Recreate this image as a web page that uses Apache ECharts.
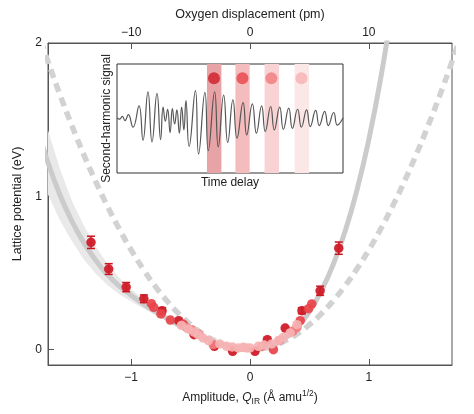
<!DOCTYPE html>
<html>
<head>
<meta charset="utf-8">
<script src="https://cdn.jsdelivr.net/npm/echarts@6/dist/echarts.min.js"></script>
<style>
html,body{margin:0;padding:0;background:#fff;}
#chart{width:474px;height:414px;}
</style>
</head>
<body>
<div id="chart"></div>
<script>
// ---- Main panel: anharmonic fit (solid) with confidence band ----
const fitQ = [-1.8,-1.7,-1.6,-1.5,-1.4,-1.3,-1.2,-1.1,-1.0,-0.9,-0.8,-0.7,-0.6,-0.5,-0.4,-0.3,-0.2,-0.1,0,0.1,0.2,0.3,0.4,0.5,0.6,0.7,0.8,0.9,1.0,1.1,1.2];
const fitV = [1.47,1.22,1.01,0.84,0.70,0.585,0.49,0.415,0.355,0.30,0.25,0.205,0.16,0.12,0.083,0.05,0.024,0.007,0,0.007,0.032,0.077,0.147,0.248,0.384,0.555,0.77,1.04,1.37,1.77,2.25];
const bandLow = [1.22,1.02,0.85,0.715,0.595,0.50,0.425,0.365,0.318,0.273,0.232,0.193,0.152,0.115,0.080,0.049,0.024,0.007,0,0.007,0.032,0.077,0.147,0.245,0.379,0.547,0.758,1.022,1.345,1.737,2.207];
const bandHigh = [1.72,1.42,1.17,0.965,0.805,0.67,0.555,0.465,0.392,0.327,0.268,0.217,0.168,0.125,0.086,0.051,0.024,0.007,0,0.007,0.032,0.077,0.147,0.251,0.389,0.563,0.782,1.058,1.395,1.803,2.293];

// ---- Harmonic potential (dashed) ----
const harmQ = [-1.8,-1.7,-1.6,-1.5,-1.4,-1.3,-1.2,-1.1,-1.0,-0.9,-0.8,-0.7,-0.6,-0.5,-0.4,-0.3,-0.2,-0.1,0,0.1,0.2,0.3,0.4,0.5,0.6,0.7,0.8,0.9,1.0,1.1,1.2,1.3,1.4,1.5,1.6,1.7,1.8];
const harmV = [2.106,1.879,1.664,1.463,1.274,1.099,0.936,0.787,0.650,0.527,0.416,0.319,0.234,0.163,0.104,0.059,0.026,0.007,0,0.007,0.026,0.059,0.104,0.163,0.234,0.319,0.416,0.527,0.650,0.787,0.936,1.099,1.274,1.463,1.664,1.879,2.106];

// ---- Measured points [Q, V] by pump colour ----
const darkPts = [[-1.338,0.70],[-1.189,0.526],[-1.042,0.408],[-0.893,0.332],[-0.74,0.254],[-0.60,0.189],[-0.47,0.098],[-0.30,0.022],[-0.146,-0.011],[0.042,-0.011],[0.146,0.065],[0.296,0.141],[0.437,0.254],[0.59,0.384],[0.747,0.662]];
const redPts = [[-0.83,0.30],[-0.81,0.276],[-0.75,0.233],[-0.67,0.193],[-0.56,0.165],[0.197,0.0],[0.423,0.189],[0.493,0.267],[0.52,0.298]];
const salmonPts = [[-0.535,0.145],[-0.49,0.13],[-0.43,0.10],[-0.31,0.033],[0.10,0.02],[0.25,0.06],[0.36,0.12],[0.395,0.145]];
const pinkPts = [[-0.577,0.158],[-0.52,0.135],[-0.47,0.115],[-0.437,0.098],[-0.395,0.076],[-0.35,0.059],[-0.254,0.037],[-0.197,0.022],[-0.15,0.018],[-0.099,0.011],[-0.057,0.015],[-0.028,0.011],[0,0.011],[0.07,0.022],[0.12,0.03],[0.183,0.037],[0.24,0.059],[0.28,0.08],[0.338,0.109],[0.395,0.163]];
const errPts = [[-1.338,0.70,0.04],[-1.189,0.526,0.035],[-1.042,0.408,0.03],[-0.893,0.332,0.025],[-0.74,0.254,0.02],[0.437,0.254,0.02],[0.59,0.384,0.03],[0.747,0.662,0.04]];

// ---- Axis ticks ----
const qTicks = [-1, 0, 1];
const pmTicks = [-10, 0, 10];
const vTicks = [0, 1, 2];

// ---- Inset: second-harmonic trace (extrema) ----
const waveT = [0,1.18,2.36,3.54,5.01,7.08,9.73,11.5,13.7,15.5,17.7,19.3,20.4,21.4,22.4,23.5,24.5,25.5,26.5,27.6,28.6,29.6,30.5,31.9,34.7,36.1,38.9,40.4,43.2,44.8,47.2,49.0,51.3,53.1,55.8,57.4,59.9,61.7,64.0,65.6,68.0,69.6,72.0,73.6,76.0,77.6,79.9,81.6,83.9,85.5,87.9,89.5,91.9,93.5,95.9,97.5,100];
const waveS = [0.01,-0.01,0.04,-0.04,0.07,-0.16,0.23,-0.40,0.49,-0.43,0.46,-0.39,0.21,-0.05,0.17,-0.26,0.18,-0.10,0.16,-0.27,0.21,-0.21,0.33,-0.51,0.51,-0.65,0.48,-0.59,0.49,-0.52,0.43,-0.44,0.34,-0.36,0.29,-0.30,0.27,-0.27,0.23,-0.24,0.22,-0.21,0.21,-0.20,0.19,-0.18,0.17,-0.16,0.16,-0.15,0.15,-0.13,0.13,-0.13,0.11,-0.12,0.01];
const bandStart = [39.8, 52.4, 65.3, 78.6];
const bandEnd = [46.2, 58.7, 71.7, 85.0];
const bandColors = ['#e8a3a6', '#f5bcbe', '#f9d3d4', '#fce7e7'];
const dotT = [42.9, 55.5, 68.3, 81.6];
const dotS = [0.74, 0.74, 0.74, 0.74];
const pointColors = ['#d01c28', '#e9434a', '#f17a7d', '#f6b2b3'];

const FONT = 'Liberation Sans, Arial, Helvetica, sans-serif';
const fmtMinus = v => v < 0 ? '\u2212' + Math.abs(v) : String(v);
const zip = (a, b) => a.map((x, i) => [x, b[i]]);

const chart = echarts.init(document.getElementById('chart'), null, {renderer: 'canvas'});

const axisCommon = {
  axisLine: {show: true, onZero: false, lineStyle: {color: '#555', width: 1}},
  splitLine: {show: false},
};

const option = {
  animation: false,
  backgroundColor: '#fff',
  textStyle: {fontFamily: FONT},
  grid: [
    {left: 48, right: 22, top: 43, bottom: 49, show: true, borderColor: '#555', borderWidth: 1, backgroundColor: 'transparent'},
    {left: 117, top: 64, width: 226, height: 109, show: true, borderColor: '#333', borderWidth: 1, backgroundColor: '#fff'}
  ],
  xAxis: [
    Object.assign({}, axisCommon, {
      type: 'value', gridIndex: 0, position: 'bottom', min: -1.7, max: 1.7,
      axisTick: {show: true, inside: true, length: 6, customValues: qTicks, lineStyle: {color: '#555'}},
      axisLabel: {show: true, customValues: qTicks, formatter: fmtMinus, color: '#222', fontSize: 12, margin: 7, fontFamily: FONT},
      name: '{n|Amplitude, }{i|Q}{sub|IR}{n| (Å amu}{sup|1/2}{n|)}',
      nameLocation: 'middle', nameGap: 19,
      nameTextStyle: {
        color: '#222', fontSize: 12, fontFamily: FONT,
        rich: {
          n: {fontSize: 12, fontFamily: FONT, color: '#222'},
          i: {fontSize: 12, fontFamily: FONT, color: '#222', fontStyle: 'italic'},
          sub: {fontSize: 8.5, fontFamily: FONT, color: '#222', padding: [8, 0, 0, 0]},
          sup: {fontSize: 8.5, fontFamily: FONT, color: '#222', padding: [0, 0, 8, 0]}
        }
      }
    }),
    Object.assign({}, axisCommon, {
      type: 'value', gridIndex: 0, position: 'top', min: -17, max: 17,
      axisTick: {show: true, inside: true, length: 6, customValues: pmTicks, lineStyle: {color: '#555'}},
      axisLabel: {show: true, customValues: pmTicks, formatter: fmtMinus, color: '#222', fontSize: 12, margin: 4, fontFamily: FONT},
      name: 'Oxygen displacement (pm)', nameLocation: 'middle', nameGap: 22,
      nameTextStyle: {color: '#222', fontSize: 12.5, fontFamily: FONT}
    }),
    {
      type: 'value', gridIndex: 1, min: 0, max: 100,
      axisLine: {show: false, onZero: false}, axisTick: {show: false}, axisLabel: {show: false}, splitLine: {show: false},
      name: 'Time delay', nameLocation: 'middle', nameGap: 4,
      nameTextStyle: {color: '#222', fontSize: 12, fontFamily: FONT, verticalAlign: 'top'}
    }
  ],
  yAxis: [
    Object.assign({}, axisCommon, {
      type: 'value', gridIndex: 0, min: -0.1, max: 2,
      axisTick: {show: true, inside: true, length: 6, customValues: vTicks, lineStyle: {color: '#555'}},
      axisLabel: {show: true, customValues: vTicks, color: '#222', fontSize: 12, margin: 6, fontFamily: FONT},
      name: 'Lattice potential (eV)', nameLocation: 'middle', nameGap: 20,
      nameTextStyle: {color: '#222', fontSize: 12.5, fontFamily: FONT}
    }),
    {
      type: 'value', gridIndex: 1, min: -1, max: 1,
      axisLine: {show: false, onZero: false}, axisTick: {show: false}, axisLabel: {show: false}, splitLine: {show: false},
      name: 'Second-harmonic signal', nameLocation: 'middle', nameGap: 4,
      nameTextStyle: {color: '#222', fontSize: 12, fontFamily: FONT}
    }
  ],
  series: [
    {
      name: 'band', type: 'custom', xAxisIndex: 0, yAxisIndex: 0, silent: true, clip: true, z: 1,
      data: [[0, 0]], encode: {x: 0, y: 1},
      renderItem: function (params, api) {
        const pts = [];
        for (let i = 0; i < fitQ.length; i++) pts.push(api.coord([fitQ[i], bandHigh[i]]));
        for (let i = fitQ.length - 1; i >= 0; i--) pts.push(api.coord([fitQ[i], bandLow[i]]));
        const cs = params.coordSys;
        return {
          type: 'group',
          clipPath: {type: 'rect', shape: {x: cs.x, y: cs.y, width: cs.width, height: cs.height}},
          children: [{type: 'polygon', shape: {points: pts}, style: {fill: '#e9e9e9', stroke: '#e9e9e9', lineWidth: 1}}]
        };
      }
    },
    {
      name: 'fit', type: 'line', xAxisIndex: 0, yAxisIndex: 0, data: zip(fitQ, fitV), smooth: true,
      showSymbol: false, symbol: 'none', silent: true, z: 2,
      lineStyle: {color: '#cbcbcb', width: 5}
    },
    {
      name: 'harmonic', type: 'line', xAxisIndex: 0, yAxisIndex: 0, data: zip(harmQ, harmV), smooth: true,
      showSymbol: false, symbol: 'none', silent: true, z: 3,
      lineStyle: {color: '#d2d2d2', width: 5.5, type: [9, 6], cap: 'butt'}
    },
    {
      name: 'errors', type: 'custom', xAxisIndex: 0, yAxisIndex: 0, silent: true, z: 4,
      data: errPts, encode: {x: 0, y: 1},
      renderItem: function (params, api) {
        const q = api.value(0), v = api.value(1), e = api.value(2);
        const t = api.coord([q, v + e]), b = api.coord([q, v - e]);
        const w = 4, st = {stroke: '#c8161f', lineWidth: 1.5};
        return {type: 'group', children: [
          {type: 'line', shape: {x1: t[0], y1: t[1], x2: b[0], y2: b[1]}, style: st},
          {type: 'line', shape: {x1: t[0] - w, y1: t[1], x2: t[0] + w, y2: t[1]}, style: st},
          {type: 'line', shape: {x1: b[0] - w, y1: b[1], x2: b[0] + w, y2: b[1]}, style: st}
        ]};
      }
    },
    {type: 'scatter', xAxisIndex: 0, yAxisIndex: 0, data: darkPts, symbolSize: 9.5, z: 5, itemStyle: {color: pointColors[0], opacity: 0.95}},
    {type: 'scatter', xAxisIndex: 0, yAxisIndex: 0, data: redPts, symbolSize: 9.5, z: 6, itemStyle: {color: pointColors[1], opacity: 0.92}},
    {type: 'scatter', xAxisIndex: 0, yAxisIndex: 0, data: salmonPts, symbolSize: 9.5, z: 7, itemStyle: {color: pointColors[2], opacity: 0.92}},
    {type: 'scatter', xAxisIndex: 0, yAxisIndex: 0, data: pinkPts, symbolSize: 9.5, z: 8, itemStyle: {color: pointColors[3], opacity: 0.92}},
    {
      name: 'trace', type: 'line', xAxisIndex: 2, yAxisIndex: 1, data: zip(waveT, waveS), smooth: 0.5,
      showSymbol: false, symbol: 'none', silent: true, z: 10,
      lineStyle: {color: '#555', width: 1.2},
      markArea: {
        silent: true,
        data: bandStart.map((s, i) => [{xAxis: s, itemStyle: {color: bandColors[i]}}, {xAxis: bandEnd[i]}])
      }
    },
    {
      name: 'pumpDots', type: 'scatter', xAxisIndex: 2, yAxisIndex: 1, symbolSize: 12, z: 11,
      data: dotT.map((t, i) => ({value: [t, dotS[i]], itemStyle: {color: pointColors[i]}}))
    }
  ]
};
chart.setOption(option);
</script>
</body>
</html>
